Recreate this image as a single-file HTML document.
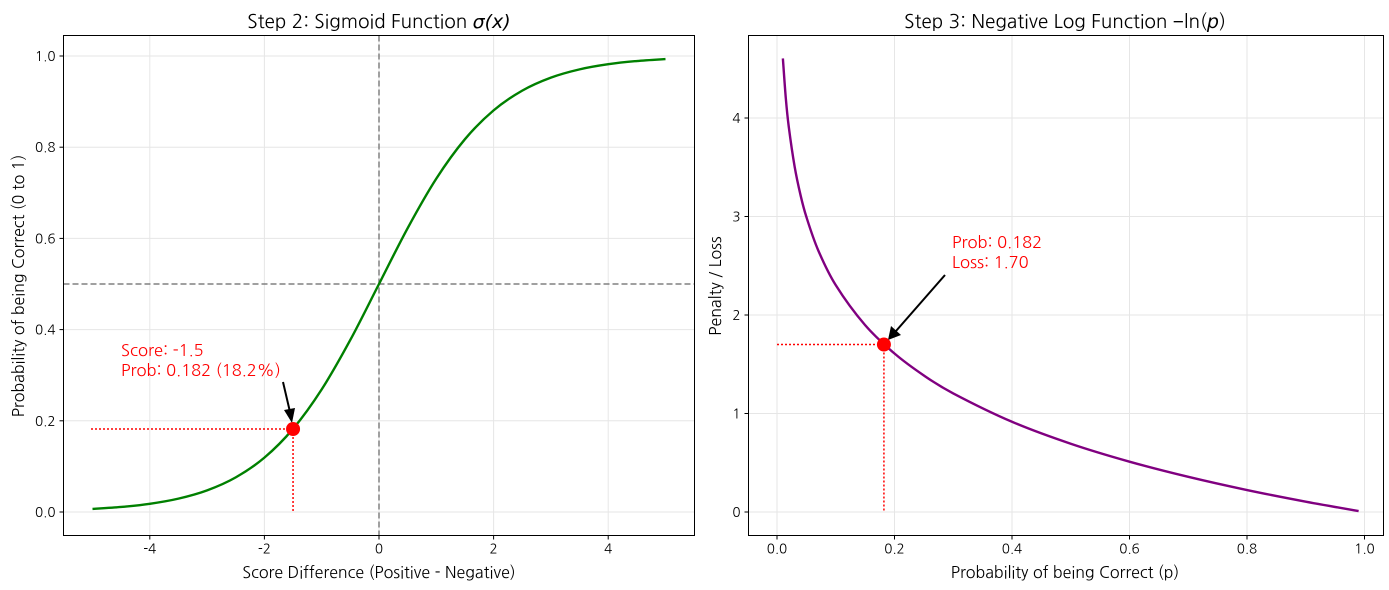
<!DOCTYPE html>
<html><head><meta charset="utf-8"><style>
body{margin:0;background:#fff}
svg{display:block;font-family:"NanumGothic","Liberation Sans",sans-serif}
</style></head><body>
<svg id="c" width="1389" height="590" viewBox="0 0 1389 590"></svg>
<script>
const sigX=[-5,-4.5,-4,-3.5,-3,-2.5,-2,-1.5,-1,-0.5,0,0.5,1,1.5,2,2.5,3,3.5,4,4.5,5];
const sigY=[0.0067,0.0110,0.0180,0.0293,0.0474,0.0759,0.1192,0.1824,0.2689,0.3775,0.5,0.6225,0.7311,0.8176,0.8808,0.9241,0.9526,0.9707,0.9820,0.9890,0.9933];
const logX=[0.01,0.015,0.02,0.03,0.04,0.05,0.07,0.1,0.15,0.2,0.25,0.3,0.4,0.5,0.6,0.7,0.8,0.9,0.99];
const logY=[4.605,4.200,3.912,3.507,3.219,2.996,2.659,2.303,1.897,1.609,1.386,1.204,0.916,0.693,0.511,0.357,0.223,0.105,0.010];
const leftXTicks=[-4,-2,0,2,4];
const leftYTicks=[0,0.2,0.4,0.6,0.8,1.0];
const rightXTicks=[0,0.2,0.4,0.6,0.8,1.0];
const rightYTicks=[0,1,2,3,4];
const markScore=-1.5, markProb=0.182, markLoss=1.70;

const NS="http://www.w3.org/2000/svg";
const svg=document.getElementById('c');
function el(t,a,p){const e=document.createElementNS(NS,t);for(const k in a)e.setAttribute(k,a[k]);(p||svg).appendChild(e);return e;}
function path(xs,ys,sx,sy){const P=xs.map((x,i)=>[sx(x),sy(ys[i])]);let d='M'+P[0][0]+','+P[0][1];
for(let i=0;i<P.length-1;i++){const p0=P[i-1]||P[i],p1=P[i],p2=P[i+1],p3=P[i+2]||p2;
d+=' C'+(p1[0]+(p2[0]-p0[0])/6)+','+(p1[1]+(p2[1]-p0[1])/6)+' '+(p2[0]-(p3[0]-p1[0])/6)+','+(p2[1]-(p3[1]-p1[1])/6)+' '+p2[0]+','+p2[1];}return d;}
function fmt(v,d){return v.toFixed(d);}

function axes(o){
 const g=el('g',{});
 o.xt.forEach(v=>{const x=o.sx(v);el('line',{x1:x,x2:x,y1:o.t,y2:o.b,stroke:'#e6e6e6','stroke-width':1},g);
  el('line',{x1:x,x2:x,y1:o.b,y2:o.b+4,stroke:'#000'},g);
  const t=el('text',{x:x,y:o.b+18,'text-anchor':'middle','font-size':13.5},g);t.textContent=fmt(v,o.xd);});
 o.yt.forEach(v=>{const y=o.sy(v);el('line',{x1:o.l,x2:o.r,y1:y,y2:y,stroke:'#e6e6e6','stroke-width':1},g);
  el('line',{x1:o.l-4,x2:o.l,y1:y,y2:y,stroke:'#000'},g);
  const t=el('text',{x:o.l-8,y:y+5,'text-anchor':'end','font-size':13.5},g);t.textContent=fmt(v,o.yd);});
 return g;}
function frame(o){el('rect',{x:o.l,y:o.t,width:o.r-o.l,height:o.b-o.t,fill:'none',stroke:'#000','stroke-width':1});}

// LEFT
const L={l:63.5,r:694.5,t:35.5,b:535.5,name:'sigmoid-axes'};
L.sx=v=>379+v*57.3; L.sy=v=>512-v*456; L.xt=leftXTicks;L.yt=leftYTicks;L.xd=0;L.yd=1;
axes(L);
let e=el('line',{x1:L.sx(0),x2:L.sx(0),y1:L.t,y2:L.b,stroke:'#808080','stroke-width':1.5,'stroke-dasharray':'6,3'});

e=el('line',{x1:L.l,x2:L.r,y1:L.sy(0.5),y2:L.sy(0.5),stroke:'#808080','stroke-width':1.5,'stroke-dasharray':'6,3'});

e=el('path',{d:path(sigX,sigY,L.sx,L.sy),fill:'none',stroke:'#008000','stroke-width':2.4});

el('line',{x1:91,x2:L.sx(markScore),y1:L.sy(markProb),y2:L.sy(markProb),stroke:'red','stroke-width':1.5,'stroke-dasharray':'2,2'});
el('line',{x1:L.sx(markScore),x2:L.sx(markScore),y1:L.sy(markProb),y2:L.sy(0),stroke:'red','stroke-width':1.5,'stroke-dasharray':'2,2'});
el('line',{x1:283,y1:382,x2:290,y2:412,stroke:'#000','stroke-width':2});
el('polygon',{points:'292,423 284,410 295,408',fill:'#000'});
e=el('circle',{cx:L.sx(markScore),cy:L.sy(markProb),r:7,fill:'red'});

e=el('text',{x:121,y:356,fill:'red','font-size':16.5});e.textContent='Score: -1.5';

e=el('text',{x:121,y:376,fill:'red','font-size':16.5});e.textContent='Prob: 0.182 (18.2%)';
frame(L);
e=el('text',{x:379,y:28,'text-anchor':'middle','font-size':19});e.innerHTML='Step 2: Sigmoid Function <tspan font-style="italic" font-family="DejaVu Sans">σ(x)</tspan>';

e=el('text',{x:379,y:578,'text-anchor':'middle','font-size':16});e.textContent='Score Difference (Positive - Negative)';

e=el('text',{x:0,y:0,'text-anchor':'middle','font-size':16,transform:'translate(24,286) rotate(-90)'});e.textContent='Probability of being Correct (0 to 1)';


// RIGHT
const R={l:748.5,r:1383.5,t:35.5,b:535.5,name:'neglog-axes'};
R.sx=v=>777+v*587.5; R.sy=v=>512-v*98.5; R.xt=rightXTicks;R.yt=rightYTicks;R.xd=1;R.yd=0;
axes(R);
e=el('path',{d:path(logX,logY,R.sx,R.sy),fill:'none',stroke:'#800080','stroke-width':2.4});

el('line',{x1:R.sx(0),x2:R.sx(markProb),y1:R.sy(markLoss),y2:R.sy(markLoss),stroke:'red','stroke-width':1.5,'stroke-dasharray':'2,2'});
el('line',{x1:R.sx(markProb),x2:R.sx(markProb),y1:R.sy(markLoss),y2:R.sy(0),stroke:'red','stroke-width':1.5,'stroke-dasharray':'2,2'});
el('line',{x1:945,y1:275,x2:896,y2:331,stroke:'#000','stroke-width':2});
el('polygon',{points:'888,340 891,326 901,335',fill:'#000'});
e=el('circle',{cx:R.sx(markProb),cy:R.sy(markLoss),r:7,fill:'red'});

e=el('text',{x:952,y:248,fill:'red','font-size':16.5});e.textContent='Prob: 0.182';

e=el('text',{x:952,y:268,fill:'red','font-size':16.5});e.textContent='Loss: 1.70';
frame(R);
e=el('text',{x:1065,y:28,'text-anchor':'middle','font-size':19});e.innerHTML='Step 3: Negative Log Function −ln(<tspan font-style="italic" font-family="DejaVu Sans">p</tspan>)';

e=el('text',{x:1065,y:578,'text-anchor':'middle','font-size':16});e.textContent='Probability of being Correct (p)';

e=el('text',{x:0,y:0,'text-anchor':'middle','font-size':16,transform:'translate(721,286) rotate(-90)'});e.textContent='Penalty / Loss';

</script>
</body></html>
